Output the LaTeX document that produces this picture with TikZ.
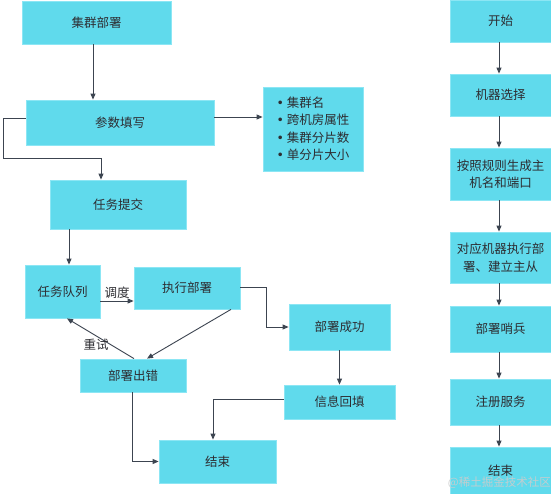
\documentclass[tikz,border=0pt]{standalone}
\usepackage{fontspec}
\setmainfont{Noto Sans CJK SC}
\newfontfamily\dvbul{DejaVu Sans}
\usetikzlibrary{arrows.meta}
\definecolor{boxfill}{RGB}{96,218,236}
\definecolor{boxline}{RGB}{140,230,244}
\definecolor{txt}{RGB}{45,45,50}
\definecolor{lin}{RGB}{60,68,80}
\newcommand{\bul}{{\dvbul •}\hspace{3pt}}
\tikzset{
  box/.style={draw=boxline, line width=0.8pt, fill=boxfill, inner sep=0pt, text=txt,
    font=\fontsize{12.5}{17.5}\selectfont, align=center},
  arr/.style={draw=lin, line width=0.9pt, -{Triangle[length=6pt,width=5pt]}},
  lbl/.style={text=txt, font=\fontsize{12.5}{15}\selectfont, inner sep=1pt},
}
\begin{document}
\begin{tikzpicture}[x=1pt,y=-1pt]
\useasboundingbox (0,0) rectangle (551,494);
\fill[white] (0,0) rectangle (551,494);
% left flow
\node[box, minimum width=149pt, minimum height=43pt] (n1) at (96.5,22.5) {集群部署};
\node[box, minimum width=188pt, minimum height=45pt] (n2) at (120,122.5) {参数填写};
\node[box, minimum width=100pt, minimum height=84pt, align=left] (lst) at (313,129)
  {\bul 集群名\\\bul 跨机房属性\\\bul 集群分片数\\\bul 单分片大小};
\node[box, minimum width=136pt, minimum height=49pt] (n3) at (118,204.5) {任务提交};
\node[box, minimum width=75pt, minimum height=53pt] (n4) at (62.5,291.5) {任务队列};
\node[box, minimum width=106pt, minimum height=42pt] (n5) at (187,288) {执行部署};
\node[box, minimum width=101pt, minimum height=46pt] (n6) at (339.5,327) {部署成功};
\node[box, minimum width=106pt, minimum height=33pt] (n7) at (133,375.5) {部署出错};
\node[box, minimum width=111pt, minimum height=34pt] (n8) at (339.5,402) {信息回填};
\node[box, minimum width=117pt, minimum height=43pt] (n9) at (217.5,461.5) {结束};
% right flow
\node[box, minimum width=101pt, minimum height=42pt] (r1) at (500.5,21) {开始};
\node[box, minimum width=101pt, minimum height=42pt] (r2) at (500.5,95) {机器选择};
\node[box, minimum width=101pt, minimum height=52pt] (r3) at (500.5,174) {按照规则生成主\\机名和端口};
\node[box, minimum width=101pt, minimum height=51pt] (r4) at (500.5,257.5) {对应机器执行部\\署、建立主从};
\node[box, minimum width=101pt, minimum height=46pt] (r5) at (500.5,329) {部署哨兵};
\node[box, minimum width=101pt, minimum height=46pt] (r6) at (500.5,402) {注册服务};
\node[box, minimum width=101pt, minimum height=47pt] (r7) at (500.5,470.5) {结束};
% connectors left
\coordinate (c1) at (3,158);
\draw[arr] ([xshift=-3.5pt]n1.south) -- ([xshift=-3.5pt]n1.south |- n2.north);
\draw[arr] ([yshift=5.5pt]n2.east) -- ([yshift=5.5pt]n2.east -| lst.west);
\draw[arr] ([yshift=4.5pt]n2.west) -| (c1) -| ([xshift=-17pt]n3.north);
\draw[arr] ([xshift=-49pt]n3.south) -- ([xshift=-49pt]n3.south |- n4.north);
\draw[arr] ([yshift=-9.5pt]n4.east) -- ([yshift=-9.5pt]n4.east -| n5.west)
  node[lbl, midway, above=1pt] (ld) {调度};
\draw[arr] ([yshift=1pt]n5.east) -- ++(26,0) |- (n6.west);
\draw[arr] ([xshift=44pt]n5.south) -- ([xshift=14pt]n7.north);
\draw[arr] ([xshift=1pt]n7.north) -- ([xshift=4.5pt]n4.south);
\node[lbl] (lr) at (96,345) {重试};
\draw[arr] (n6.south) -- (n6.south |- n8.north);
\draw[arr] ([yshift=3pt]n8.west) -| ([xshift=-4.5pt]n9.north);
\draw[arr] ([xshift=-1pt]n7.south) |- (n9.west);
% connectors right
\draw[arr] ([xshift=-1.5pt]r1.south) -- ([xshift=-1.5pt]r1.south |- r2.north);
\draw[arr] ([xshift=-1.5pt]r2.south) -- ([xshift=-1.5pt]r2.south |- r3.north);
\draw[arr] ([xshift=-1.5pt]r3.south) -- ([xshift=-1.5pt]r3.south |- r4.north);
\draw[arr] ([xshift=-1.5pt]r4.south) -- ([xshift=-1.5pt]r4.south |- r5.north);
\draw[arr] ([xshift=-1.5pt]r5.south) -- ([xshift=-1.5pt]r5.south |- r6.north);
\draw[arr] ([xshift=-1.5pt]r6.south) -- ([xshift=-1.5pt]r6.south |- r7.north);
% watermark
\node[text=gray!40, opacity=0.9, font=\fontsize{11.5}{13}\selectfont, inner sep=0pt, anchor=east] (wm) at (551,483) {@稀土掘金技术社区};
\end{tikzpicture}
\end{document}
